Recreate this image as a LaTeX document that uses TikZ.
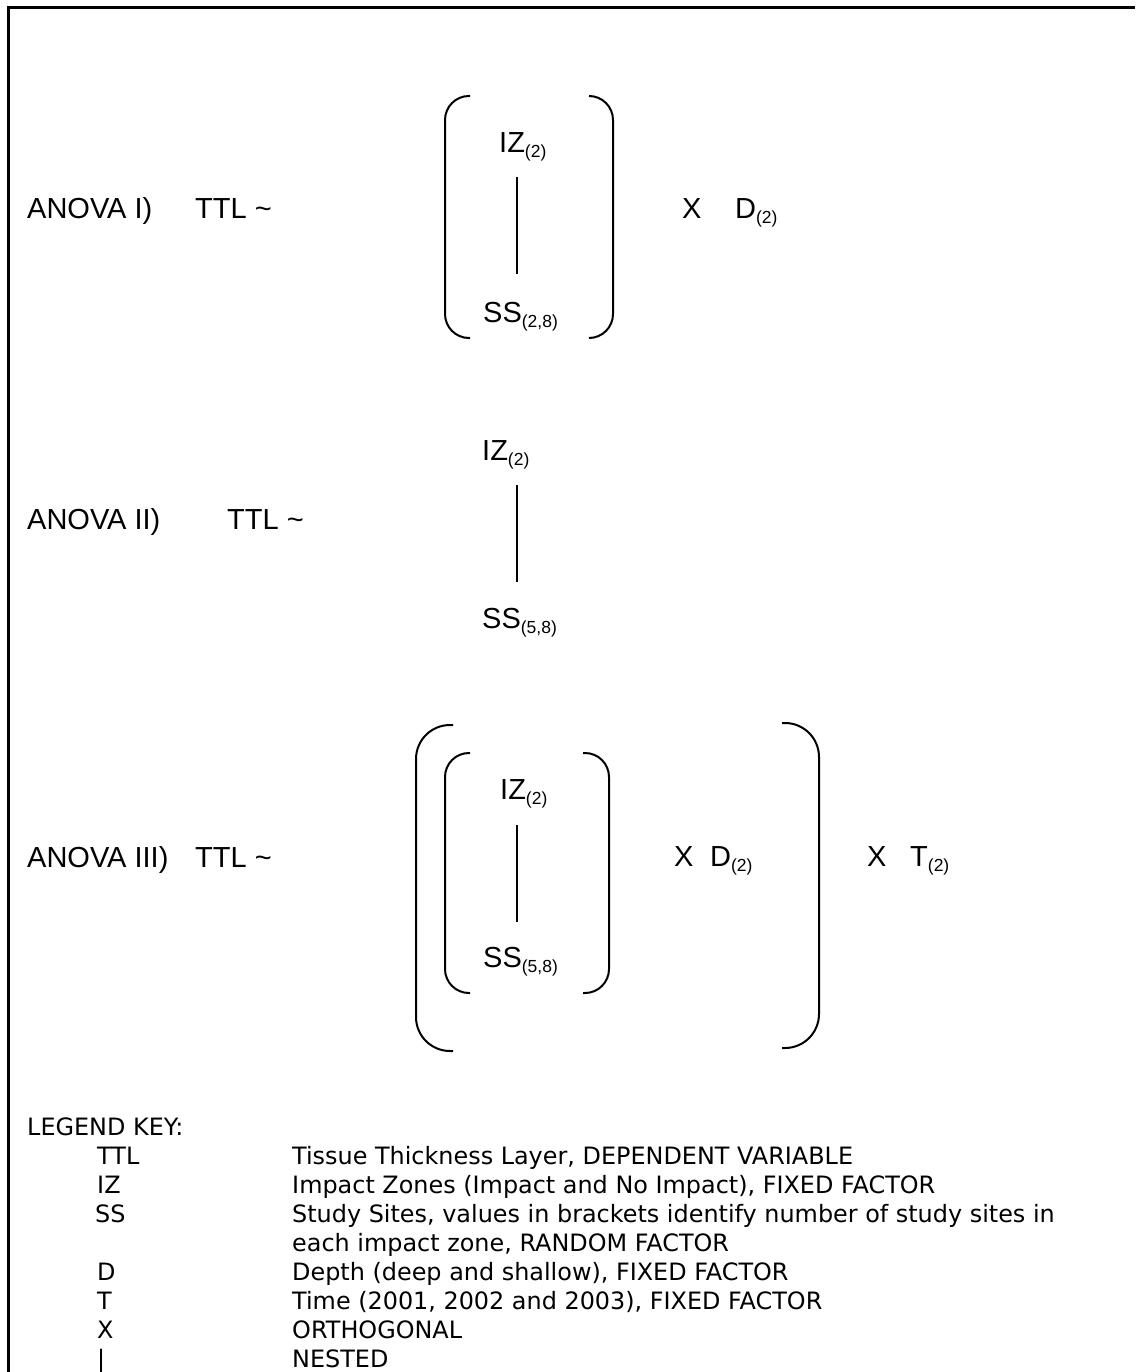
\documentclass[tikz,border=0pt]{standalone}
\usepackage{fontspec}
\setmainfont{Liberation Sans}
\newfontfamily\keyfont{DejaVu Sans}
\newcommand{\lowsub}[1]{\raisebox{-5pt}{\fontsize{17.5}{18}\selectfont #1}}

\begin{document}
\begin{tikzpicture}[
  x=1pt, y=-1pt,
  term/.style={anchor=base west, inner sep=0pt, font=\fontsize{29}{34}\selectfont},
  keytext/.style={anchor=base west, inner sep=0pt, font=\keyfont\fontsize{23.9}{28}\selectfont},
  paren/.style={line width=2pt},
  nestline/.style={line width=2pt},
]
\useasboundingbox (0,0) rectangle (1135,1372);

% --- Frame ---
\draw[line width=3pt] (1135,8) -- (8,8) -- (8,1372);

% --- ANOVA I ---
\node[term] (anova1) at (27,219) {ANOVA I)};
\node[term] (ttl1) at (195,219) {TTL \textasciitilde};
\node[term] (iz1) at (499,153) {IZ\lowsub{(2)}};
\node[term] (ss1) at (483,322) {SS\lowsub{(2,8)}};
\coordinate (col) at (517,0);
\draw[nestline] (iz1.base -| col) ++(0,24) -- ++(0,97);
\draw[paren, rounded corners=24pt] (470,96) -- (445,96) -- (445,338) -- (470,338);
\draw[paren, rounded corners=24pt] (589,96) -- (613,96) -- (613,338) -- (589,338);
\node[term] (x1) at (682,219) {X};
\node[term] (d1) at (735,219) {D\lowsub{(2)}};

% --- ANOVA II ---
\node[term] (anova2) at (27,529) {ANOVA II)};
\node[term] (ttl2) at (227,529) {TTL \textasciitilde};
\node[term] (iz2) at (482,460) {IZ\lowsub{(2)}};
\node[term] (ss2) at (482,628) {SS\lowsub{(5,8)}};
\draw[nestline] (iz2.base -| col) ++(0,25) -- ++(0,97);

% --- ANOVA III ---
\node[term] (anova3) at (27,867) {ANOVA III)};
\node[term] (ttl3) at (195,867) {TTL \textasciitilde};
\node[term] (iz3) at (500,799) {IZ\lowsub{(2)}};
\node[term] (ss3) at (483,967) {SS\lowsub{(5,8)}};
\draw[nestline] (iz3.base -| col) ++(0,26) -- ++(0,97);
% inner brackets
\draw[paren, rounded corners=24pt] (470,753) -- (445,753) -- (445,993) -- (470,993);
\draw[paren, rounded corners=24pt] (583,753) -- (609,753) -- (609,993) -- (583,993);
\node[term] (x2) at (674,866) {X};
\node[term] (d2) at (710,866) {D\lowsub{(2)}};
% outer brackets
\draw[paren, rounded corners=34pt] (453,725) -- (416,725) -- (416,1051) -- (453,1051);
\draw[paren, rounded corners=34pt] (782,723) -- (819,723) -- (819,1048) -- (782,1048);
\node[term] (x3) at (867,866) {X};
\node[term] (t3) at (910,866) {T\lowsub{(2)}};

% --- Legend ---
\node[keytext] (keyhead) at (27,1135) {LEGEND KEY:};
\node[keytext] (keyttl) at (97,1164) {TTL};
\node[keytext] (descttl) at (292,1164) {Tissue Thickness Layer, DEPENDENT VARIABLE};
\node[keytext] (keyiz) at (97,1193) {IZ};
\node[keytext] (desciz) at (292,1193) {Impact Zones (Impact and No Impact), FIXED FACTOR};
\node[keytext] (keyss) at (95,1222) {SS};
\node[keytext] (descss) at (292,1222) {Study Sites, values in brackets identify number of study sites in};
\node[keytext] (descss2) at (292,1251) {each impact zone, RANDOM FACTOR};
\node[keytext] (keyd) at (97,1280) {D};
\node[keytext] (descd) at (292,1280) {Depth (deep and shallow), FIXED FACTOR};
\node[keytext] (keyt) at (97,1309) {T};
\node[keytext] (desct) at (292,1309) {Time (2001, 2002 and 2003), FIXED FACTOR};
\node[keytext] (keyx) at (97,1338) {X};
\node[keytext] (descx) at (292,1338) {ORTHOGONAL};
\node[keytext] (keynest) at (97,1367) {|};
\node[keytext] (descnest) at (292,1367) {NESTED};

\end{tikzpicture}
\end{document}
